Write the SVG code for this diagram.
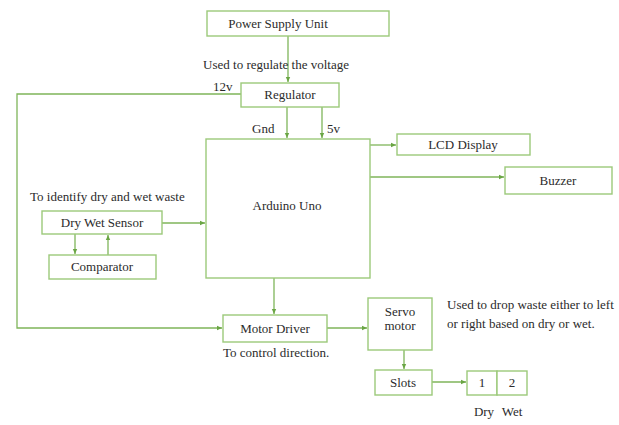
<svg xmlns="http://www.w3.org/2000/svg" width="619" height="425" viewBox="0 0 619 425">
<defs>
<style>
.box{fill:#fff;stroke:#9cc97a;stroke-width:1.4}
.ln{fill:none;stroke:#7fb55a;stroke-width:1.3}
text{font-family:'Liberation Serif','DejaVu Serif',serif;font-size:13px;fill:#2b2b2b}
.c{text-anchor:middle}
</style>
<marker id="ah" markerWidth="6" markerHeight="6" refX="5" refY="3" orient="auto" markerUnits="userSpaceOnUse">
<path d="M0,0.8 L5,3 L0,5.2 z" fill="#6aa544"/>
</marker>
</defs>
<rect width="619" height="425" fill="#fff"/>
<g id="connectors">
<path class="ln" d="M288,36 V82" marker-end="url(#ah)"/>
<path class="ln" d="M241,94 H17 V328 H222" marker-end="url(#ah)"/>
<path class="ln" d="M287,107 V138" marker-end="url(#ah)"/>
<path class="ln" d="M322,107 V138" marker-end="url(#ah)"/>
<path class="ln" d="M370,145 H396" marker-end="url(#ah)"/>
<path class="ln" d="M370,177 H504" marker-end="url(#ah)"/>
<path class="ln" d="M162,223 H205" marker-end="url(#ah)"/>
<path class="ln" d="M75,234 V254" marker-end="url(#ah)"/>
<path class="ln" d="M108,255 V235" marker-end="url(#ah)"/>
<path class="ln" d="M274,278 V314" marker-end="url(#ah)"/>
<path class="ln" d="M327,328 H367" marker-end="url(#ah)"/>
<path class="ln" d="M404,350 V369" marker-end="url(#ah)"/>
<path class="ln" d="M432,382 H466" marker-end="url(#ah)"/>
</g>
<g id="psu"><rect class="box" x="207" y="11" width="182" height="25"/><text class="c" x="278" y="28">Power Supply Unit</text></g>
<g id="regulator"><rect class="box" x="241" y="83" width="98" height="24"/><text class="c" x="290" y="99">Regulator</text></g>
<g id="arduino"><rect class="box" x="206" y="139" width="164" height="139"/><text class="c" x="287" y="210">Arduino Uno</text></g>
<g id="lcd"><rect class="box" x="397" y="134" width="133" height="21"/><text class="c" x="463" y="149">LCD Display</text></g>
<g id="buzzer"><rect class="box" x="505" y="167" width="107" height="27"/><text class="c" x="558" y="185">Buzzer</text></g>
<g id="sensor"><rect class="box" x="42" y="211" width="120" height="23"/><text class="c" x="102" y="227">Dry Wet Sensor</text></g>
<g id="comparator"><rect class="box" x="49" y="255" width="107" height="24"/><text class="c" x="102" y="271">Comparator</text></g>
<g id="motordriver"><rect class="box" x="223" y="315" width="104" height="27"/><text class="c" x="275" y="333">Motor Driver</text></g>
<g id="servo"><rect class="box" x="368" y="298" width="64" height="52"/><text class="c" x="400" y="316">Servo</text><text class="c" x="400" y="330">motor</text></g>
<g id="slots"><rect class="box" x="375" y="370" width="57" height="25"/><text class="c" x="403" y="387">Slots</text></g>
<g id="slot1"><rect class="box" x="467" y="371" width="30" height="24"/><text class="c" x="482" y="387">1</text></g>
<g id="slot2"><rect class="box" x="497" y="371" width="30" height="24"/><text class="c" x="512" y="387">2</text></g>
<g id="labels">
<text class="c" x="276" y="69">Used to regulate the voltage</text>
<text x="213" y="91">12v</text>
<text x="252" y="133">Gnd</text>
<text x="327" y="133">5v</text>
<text x="30" y="201">To identify dry and wet waste</text>
<text x="223" y="357">To control direction.</text>
<text x="447" y="309">Used to drop waste either to left</text>
<text x="447" y="328">or right based on dry or wet.</text>
<text class="c" x="484" y="416">Dry</text>
<text class="c" x="512" y="416">Wet</text>
</g>
</svg>
